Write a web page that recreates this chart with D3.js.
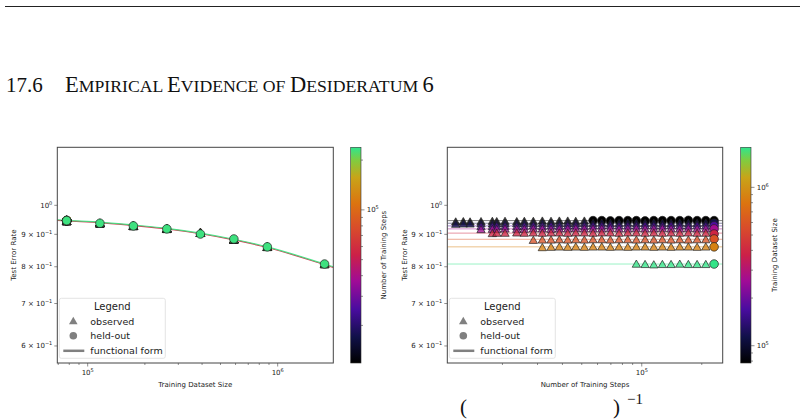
<!DOCTYPE html>
<html><head><meta charset="utf-8">
<script src="https://cdn.jsdelivr.net/npm/d3@7"></script>
<style>
body{margin:0;background:#fff;}
svg text{font-family:"DejaVu Sans",sans-serif;}
svg text.serif{font-family:"Liberation Serif","Times New Roman",serif;}
</style></head>
<body>
<svg id="chart" width="804" height="419"></svg>
<script>
// ---------------- DATA ----------------
const datasetSizes = [77500, 116000, 174000, 261000, 392000, 588000, 882000, 1765000];
const trainingSteps = [11660, 12730, 13760, 15620, 17800, 18730, 20610, 23600, 25760, 28580, 31710,
  35060, 38600, 42530, 46660, 51520, 56970, 63000, 69570, 76920, 85090, 93950, 103900, 114900,
  126900, 140300, 155100, 171300, 189500, 209500, 230600];
// first step index observed for each dataset size
const rowStart = [0, 0, 3, 3, 4, 9, 10, 21];
// first held-out step index for each dataset size
const heldOutStart = [16, 30, 30, 30, 30, 30, 30, 30];
// test error per dataset size (one value per step from rowStart)
const errRows = [
  [0.942,0.943,0.942,0.943,0.944,0.943,0.944,0.943,0.944,0.944,0.945,0.944,0.945,0.945,0.944,0.945,0.946,0.946,0.945,0.946,0.946,0.946,0.945,0.946,0.946,0.946,0.946,0.947,0.946,0.946,0.946],
  [0.934,0.935,0.935,0.936,0.935,0.936,0.936,0.936,0.937,0.936,0.937,0.937,0.936,0.937,0.937,0.937,0.937,0.938,0.937,0.937,0.938,0.937,0.937,0.938,0.937,0.937,0.938,0.937,0.937,0.938,0.937],
  [0.926,0.926,0.927,0.927,0.926,0.927,0.928,0.927,0.928,0.927,0.928,0.928,0.927,0.928,0.928,0.929,0.928,0.928,0.928,0.929,0.928,0.928,0.929,0.928,0.928,0.929,0.928,0.928],
  [0.916,0.917,0.917,0.918,0.917,0.917,0.918,0.918,0.917,0.918,0.918,0.919,0.918,0.918,0.918,0.919,0.918,0.918,0.919,0.918,0.918,0.919,0.918,0.918,0.919,0.918,0.918,0.918],
  [0.903,0.904,0.904,0.905,0.904,0.905,0.904,0.905,0.905,0.904,0.905,0.905,0.904,0.905,0.905,0.904,0.905,0.905,0.904,0.905,0.904,0.905,0.904,0.905,0.904,0.904,0.901],
  [0.881,0.882,0.882,0.883,0.882,0.883,0.882,0.883,0.883,0.882,0.883,0.883,0.882,0.883,0.882,0.883,0.882,0.883,0.882,0.883,0.883,0.885],
  [0.858,0.859,0.860,0.859,0.860,0.859,0.860,0.860,0.859,0.860,0.859,0.860,0.860,0.859,0.860,0.859,0.860,0.860,0.859,0.860,0.860],
  [0.808,0.807,0.806,0.807,0.807,0.808,0.807,0.807,0.807,0.808]
];
// functional form vs dataset size (left panel), two step levels
const fitSizes = [69200, 77500, 116000, 174000, 261000, 392000, 588000, 882000, 1765000, 1962000];
const fitErrLate  = [0.949, 0.947, 0.941, 0.931, 0.920, 0.904, 0.884, 0.860, 0.808, 0.800];
const fitErrEarly = [0.947, 0.945, 0.939, 0.929, 0.918, 0.902, 0.882, 0.858, 0.806, 0.798];
const fitStepsShown = [230600, 56970];
// functional form vs steps (right panel): flat level per dataset size
const fitLevelRows = [0.946, 0.937, 0.928, 0.918, 0.904, 0.884, 0.860, 0.808];
const cmapStops = [0, 0.12, 0.25, 0.38, 0.5, 0.62, 0.74, 0.86, 0.94, 1];
const cmapColors = ["#000000", "#101048", "#4a0ca0", "#a00c96", "#cc2048", "#d84a2c", "#dc7410", "#c8a418", "#80cc40", "#2ee68e"];

// ---------------- SETUP ----------------
const svg = d3.select("#chart");
const cmap = d3.scaleLinear().domain(cmapStops).range(cmapColors).interpolate(d3.interpolateRgb);

const yDom = [0.5640, 1.2346];
const panels = [
  {x0:57.3, x1:333.3, xdom:[69200,1962000], cbx:350.7, cbDom:[11850,239000], xlab:"Training Dataset Size", cblab:"Number of Training Steps", ylabX:16, cblabX:386, xticks:[1e5,1e6], cbticks:[1e5]},
  {x0:447.3, x1:722.7, xdom:[10580,254700], cbx:740.7, cbDom:[77800,1790000], xlab:"Number of Training Steps", cblab:"Training Dataset Size", ylabX:407, cblabX:777, xticks:[1e5], cbticks:[1e5,1e6]}
];
const Y0 = 147.3, Y1 = 363;

function minorTicks(dom){
  const out=[];
  for(let e=Math.floor(Math.log10(dom[0])); e<=Math.ceil(Math.log10(dom[1])); e++){
    for(let m=1;m<10;m++){ const v=m*Math.pow(10,e); if(v>=dom[0]&&v<=dom[1]) out.push(v);} }
  return out;
}

const defs = svg.append("defs");
const grad = defs.append("linearGradient").attr("id","cmapGrad").attr("x1","0").attr("y1","1").attr("x2","0").attr("y2","0");
cmapStops.forEach((s,i)=>grad.append("stop").attr("offset", s).attr("stop-color", cmapColors[i]));

panels.forEach((p, pi) => {
  const x = d3.scaleLog().domain(p.xdom).range([p.x0, p.x1]);
  const y = d3.scaleLog().domain(yDom).range([Y1, Y0]);
  const cb = d3.scaleLog().domain(p.cbDom).range([Y1, Y0]);
  const cnorm = d3.scaleLog().domain(p.cbDom).range([0,1]).clamp(true);
  const color = v => cmap(cnorm(v));
  const g = svg.append("g");

  defs.append("clipPath").attr("id","clip"+pi).append("rect")
    .attr("x",p.x0).attr("y",Y0).attr("width",p.x1-p.x0).attr("height",Y1-Y0);
  const plot = g.append("g").attr("clip-path", `url(#clip${pi})`);

  if(pi===0){
    const line = d3.line().x((d,i)=>x(fitSizes[i])).y(d=>y(d)).curve(d3.curveMonotoneX);
    [fitErrEarly, fitErrLate].forEach((arr, k)=>{
      plot.append("path").attr("d", line(arr)).attr("fill","none")
        .attr("stroke", color(fitStepsShown[1-k])).attr("stroke-width", 1.2).attr("opacity", 0.9);
    });
  } else {
    fitLevelRows.forEach((lv, r)=>{
      plot.append("line").attr("x1",p.x0).attr("x2",p.x1).attr("y1",y(lv)).attr("y2",y(lv))
        .attr("stroke", color(datasetSizes[r])).attr("stroke-width",0.9).attr("opacity",0.55);
    });
  }

  const pts = [];
  errRows.forEach((row, r)=>{
    row.forEach((v, j)=>{
      const si = rowStart[r]+j;
      pts.push({size:datasetSizes[r], step:trainingSteps[si], err:v, held: si>=heldOutStart[r]});
    });
  });
  if(pi===0) pts.sort((a,b)=>a.step-b.step);
  const tri = d3.symbol().type(d3.symbolTriangle).size(30);
  pts.forEach(d=>{
    const px = pi===0 ? x(d.size) : x(d.step);
    const py = y(d.err);
    const c = pi===0 ? color(d.step) : color(d.size);
    if(d.held){
      plot.append("circle").attr("cx",px).attr("cy",py).attr("r",4.3)
        .attr("fill",c).attr("stroke","#222").attr("stroke-width",0.7);
    } else {
      plot.append("path").attr("d",tri).attr("transform",`translate(${px},${py+0.8})`)
        .attr("fill",c).attr("fill-opacity",0.78).attr("stroke","#222").attr("stroke-width",0.7);
    }
  });

  g.append("rect").attr("x",p.x0).attr("y",Y0).attr("width",p.x1-p.x0).attr("height",Y1-Y0)
    .attr("fill","none").attr("stroke","#444").attr("stroke-width",1);

  const xa = g.append("g");
  minorTicks(p.xdom).forEach(v=>{
    const major = p.xticks.includes(v);
    xa.append("line").attr("x1",x(v)).attr("x2",x(v)).attr("y1",Y1).attr("y2",Y1+(major?3.5:2))
      .attr("stroke","#444").attr("stroke-width",0.6);
  });
  p.xticks.forEach(v=>{
    const t = xa.append("text").attr("x",x(v)).attr("y",Y1+12).attr("text-anchor","middle")
      .attr("font-size","7px").attr("fill","#222");
    t.append("tspan").text("10");
    t.append("tspan").attr("dy",-3).attr("font-size","5px").text(Math.round(Math.log10(v)));
  });
  const yt = [[1,null,"0"],[0.9,"9","−1"],[0.8,"8","−1"],[0.7,"7","−1"],[0.6,"6","−1"]];
  yt.forEach(([v,m,e])=>{
    g.append("line").attr("x1",p.x0-3).attr("x2",p.x0).attr("y1",y(v)).attr("y2",y(v))
      .attr("stroke","#444").attr("stroke-width",0.6);
    const t = g.append("text").attr("x",p.x0-5).attr("y",y(v)+2.5).attr("text-anchor","end")
      .attr("font-size","7px").attr("fill","#222");
    t.append("tspan").text(m ? m+" × 10" : "10");
    t.append("tspan").attr("dy",-3).attr("font-size","5px").text(e);
  });
  g.append("text").attr("x",(p.x0+p.x1)/2).attr("y",Y1+24).attr("text-anchor","middle")
    .attr("font-size","7px").attr("fill","#222").text(p.xlab);
  g.append("text").attr("transform",`translate(${p.ylabX},${(Y0+Y1)/2}) rotate(-90)`).attr("text-anchor","middle")
    .attr("font-size","7px").attr("fill","#222").text("Test Error Rate");

  const lx = p.x0+2, ly = 298.3;
  const lg = g.append("g");
  lg.append("rect").attr("x",lx).attr("y",ly).attr("width",106).attr("height",60).attr("rx",2)
    .attr("fill","#fff").attr("fill-opacity",0.8).attr("stroke","#ddd").attr("stroke-width",0.8);
  lg.append("text").attr("x",lx+53).attr("y",ly+12).attr("text-anchor","middle").attr("font-size","10px").attr("fill","#222").text("Legend");
  lg.append("path").attr("d",d3.symbol().type(d3.symbolTriangle).size(32)).attr("transform",`translate(${lx+14},${ly+23.5})`).attr("fill","#808080");
  lg.append("text").attr("x",lx+31).attr("y",ly+26.5).attr("font-size","9.5px").attr("fill","#222").text("observed");
  lg.append("circle").attr("cx",lx+14).attr("cy",ly+37.5).attr("r",3.8).attr("fill","#808080");
  lg.append("text").attr("x",lx+31).attr("y",ly+41).attr("font-size","9.5px").attr("fill","#222").text("held-out");
  lg.append("line").attr("x1",lx+4).attr("x2",lx+25).attr("y1",ly+52.5).attr("y2",ly+52.5).attr("stroke","#808080").attr("stroke-width",2.5);
  lg.append("text").attr("x",lx+31).attr("y",ly+56).attr("font-size","9.5px").attr("fill","#222").text("functional form");

  g.append("rect").attr("x",p.cbx).attr("y",Y0).attr("width",10.3).attr("height",Y1-Y0).attr("fill","url(#cmapGrad)");
  g.append("rect").attr("x",p.cbx).attr("y",Y0).attr("width",10.3).attr("height",Y1-Y0).attr("fill","none").attr("stroke","#333").attr("stroke-width",0.6);
  minorTicks(p.cbDom).forEach(v=>{
    const major = p.cbticks.includes(v);
    g.append("line").attr("x1",p.cbx+10.3).attr("x2",p.cbx+10.3+(major?3.5:2)).attr("y1",cb(v)).attr("y2",cb(v))
      .attr("stroke","#444").attr("stroke-width",0.6);
  });
  p.cbticks.forEach(v=>{
    const t = g.append("text").attr("x",p.cbx+16).attr("y",cb(v)+2.5).attr("font-size","7px").attr("fill","#222");
    t.append("tspan").text("10");
    t.append("tspan").attr("dy",-3).attr("font-size","5px").text(Math.round(Math.log10(v)));
  });
  g.append("text").attr("transform",`translate(${p.cblabX},${(Y0+Y1)/2}) rotate(-90)`).attr("text-anchor","middle")
    .attr("font-size","7px").attr("fill","#222").text(p.cblab);
});

// page elements
svg.append("line").attr("x1",5).attr("x2",800).attr("y1",6.5).attr("y2",6.5).attr("stroke","#222").attr("stroke-width",1.2);
const title = svg.append("text").attr("class","serif").attr("x",6).attr("y",92).attr("font-size","21px").attr("fill","#111");
title.append("tspan").text("17.6");
const words = ["Empirical","Evidence","of","Desideratum","6"];
const BIG = "22.5px", SMALL = "17.7px";
words.forEach((w,i)=>{
  const first = (w==="of") ? "" : w[0];
  const rest = (w==="of") ? w : w.slice(1);
  if(i>0) title.append("tspan").attr("font-size",SMALL).text(" ");
  const a = title.append("tspan").attr("font-size", first ? BIG : SMALL).text(first ? first.toUpperCase() : rest.toUpperCase());
  if(i===0) a.attr("x",65);
  if(first && rest) title.append("tspan").attr("font-size",SMALL).text(rest.toUpperCase());
});
const f = svg.append("text").attr("class","serif").attr("y",414).attr("fill","#111");
f.append("tspan").attr("x",460).attr("font-size","21px").text("(");
f.append("tspan").attr("x",613).attr("font-size","21px").text(")");
f.append("tspan").attr("x",627).attr("y",404).attr("font-size","15px").text("−1");
</script>
</body></html>
